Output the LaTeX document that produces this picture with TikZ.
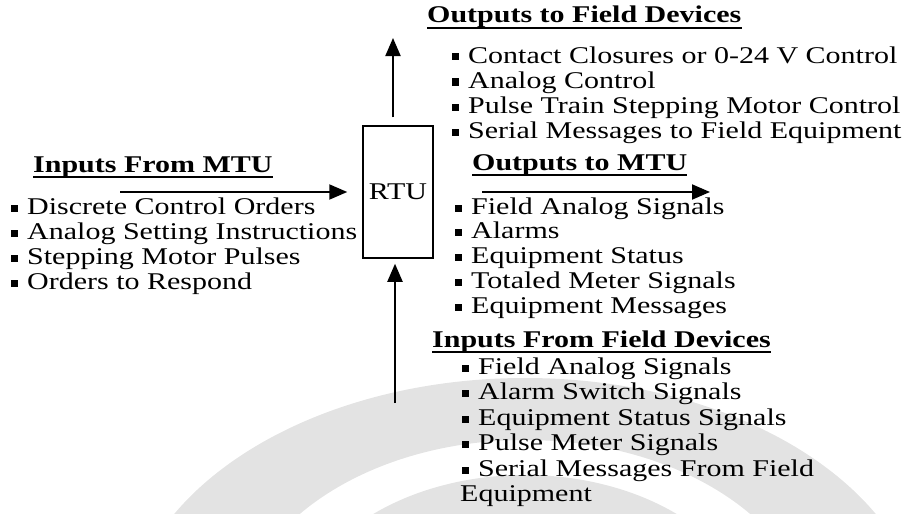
\documentclass[tikz,border=0pt]{standalone}
\usepackage{fontspec}
\setmainfont{Liberation Serif}[FakeStretch=1.25]
\usetikzlibrary{arrows.meta,positioning}

\newcommand\blt{\rule[2.5pt]{7pt}{7pt}\hspace{9pt}}
\tikzset{
  item/.style={anchor=base west, inner sep=0pt, font=\fontsize{24}{25}\selectfont},
  head/.style={item, font=\fontsize{24}{25}\selectfont\bfseries},
  bigarrow/.style={-{Triangle[length=18pt,width=15pt]}, line width=2pt},
}

\begin{document}
\begin{tikzpicture}[x=1pt, y=-1pt]
	\useasboundingbox (0,0) rectangle (911,514);
	% faint swoosh in the background
	\begin{scope}
		\clip (0,0) rectangle (911,514);
		\fill[black!11, even odd rule] (525,640) ellipse [x radius=400, y radius=262]
			(525,640) ellipse [x radius=290, y radius=200];
		\fill[black!11] (525,640) ellipse [x radius=235, y radius=165];
	\end{scope}
	\node[draw, line width=1.5pt, minimum width=70pt, minimum height=132pt, inner sep=0pt,
		font=\fontsize{24}{25}\selectfont] (rtu) at (398,192) {RTU};
	\node[head] (inmtu) at (33,172) {Inputs From MTU};
	\node[head] (outfld) at (427,23) {Outputs to Field Devices};
	\node[head] (outmtu) at (472,170) {Outputs to MTU};
	\node[head] (infld) at (432,347) {Inputs From Field Devices};
	\foreach \h in {inmtu,outfld,outmtu,infld}
		\draw[line width=1.2pt] ([yshift=-5pt]\h.base west) -- ([yshift=-5pt]\h.base east);
	\foreach \t [count=\i] in {Discrete Control Orders,Analog Setting Instructions,
			Stepping Motor Pulses,Orders to Respond}
		\node[item] (mtuin\i) at (11,{189+25*\i}) {\blt\t};
	\foreach \t [count=\i] in {Contact Closures or 0-24 V Control,Analog Control,
			Pulse Train Stepping Motor Control,Serial Messages to Field Equipment}
		\node[item] (fldout\i) at (452,{38+25*\i}) {\blt\t};
	\foreach \t [count=\i] in {Field Analog Signals,Alarms,Equipment Status,
			Totaled Meter Signals,Equipment Messages}
		\node[item] (mtuout\i) at (455,{189.25+24.75*\i}) {\blt\t};
	\foreach \t [count=\i] in {Field Analog Signals,Alarm Switch Signals,
			Equipment Status Signals,Pulse Meter Signals,Serial Messages From Field}
		\node[item] (fldin\i) at (462,{348.5+25.5*\i}) {\blt\t};
	\node[item] (fldin6) at (460,501.5) {Equipment};
	% arrows
	\coordinate (uptip) at (393,38);
	\coordinate (botend) at (395,403);
	\coordinate (leftend) at (120,192);
	\coordinate (rightend) at (482,192);
	\coordinate (righttip) at (710,192);
	\draw[bigarrow, shorten <=8pt] (rtu.north -| uptip) -- (uptip);
	\draw[bigarrow, shorten >=5pt] (botend) -- (rtu.south -| botend);
	\draw[bigarrow, shorten >=15pt] (leftend) -- (rtu.west |- leftend);
	\draw[bigarrow] (rightend) -- (righttip);
\end{tikzpicture}
\end{document}
